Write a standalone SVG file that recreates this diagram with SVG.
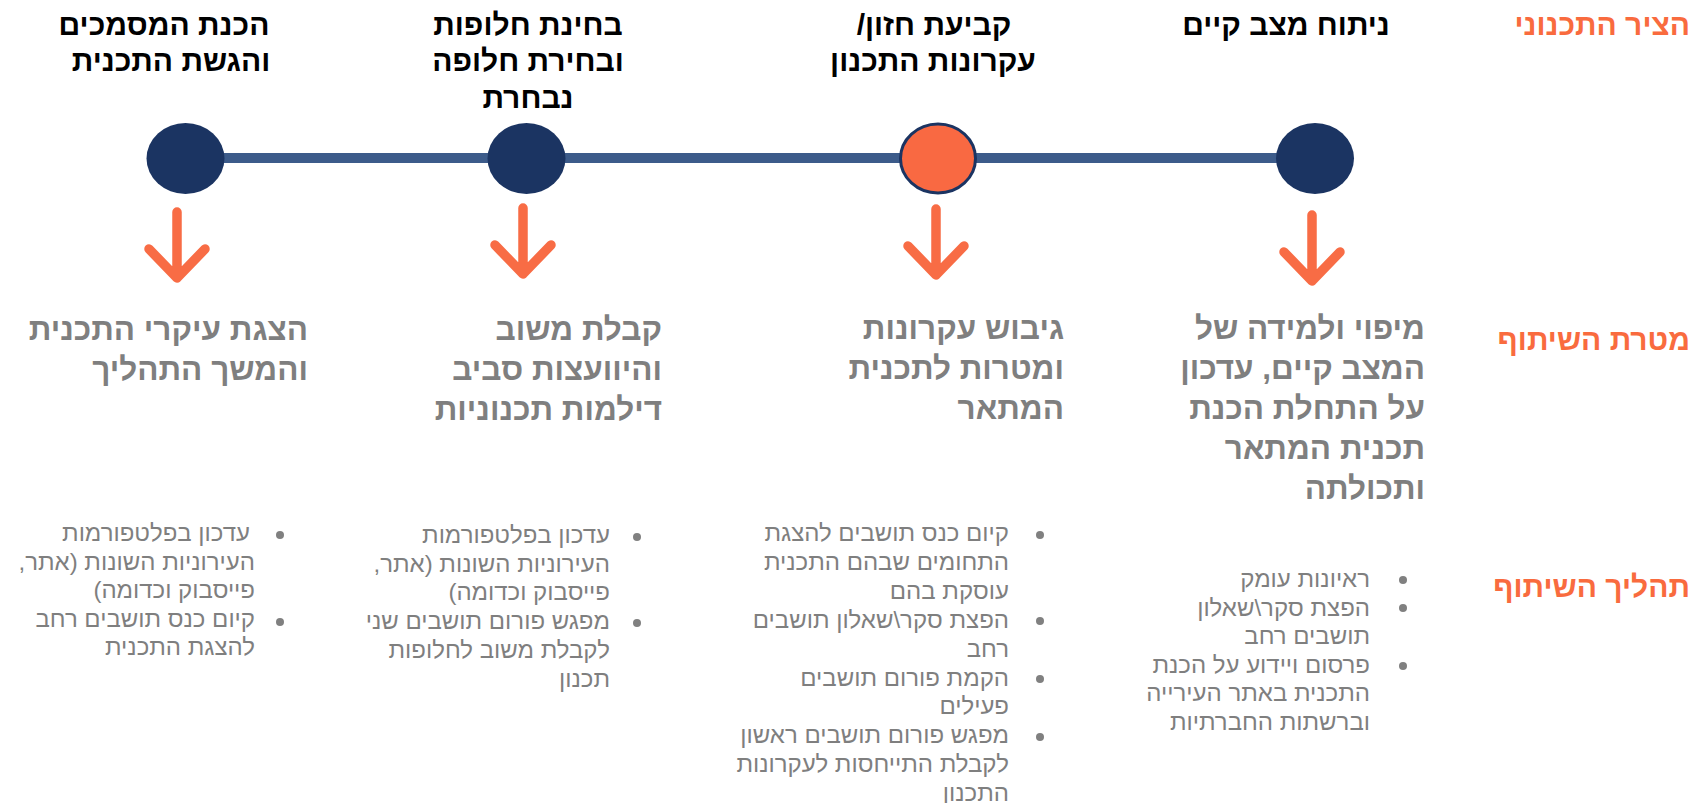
<svg xmlns="http://www.w3.org/2000/svg" width="1694" height="803" viewBox="0 0 1694 803">
<style>
text{font-family:"Liberation Sans","DejaVu Sans",sans-serif}
.hd{font-size:30px;font-weight:bold;fill:#000}
.lbl{font-size:30px;font-weight:bold;fill:#F96B3E}
.goal{font-size:31.5px;font-weight:bold;fill:#7F7F7F}
.bl{font-size:24px;fill:#7F7F7F}
.rtl{direction:rtl;unicode-bidi:embed}
.dot{fill:#808080}
.node-navy{fill:#1B3462}
.node-or{fill:#F96942;stroke:#1B3462;stroke-width:3}
.arrow{fill:none;stroke:#F86C45;stroke-width:9.5;stroke-linecap:round;stroke-linejoin:round}
</style>
<defs>
<path id="arr" d="M0,0 V66 M-28,37 L0,66 L28,37"/>
</defs>
<g id="connectors">
<line x1="186" y1="158" x2="1315" y2="158" stroke="#3C5B8A" stroke-width="10"/>
</g>
<g id="row-labels">
<text class="lbl rtl" x="1690" y="35" text-anchor="start">הציר התכנוני</text>
<text class="lbl rtl" x="1690" y="350" text-anchor="start">מטרת השיתוף</text>
<text class="lbl rtl" x="1690" y="597" text-anchor="start">תהליך השיתוף</text>
</g>
<g id="stage1">
<text class="hd rtl" x="1286" y="35" text-anchor="middle">ניתוח מצב קיים</text>
<ellipse class="node-navy" cx="1315" cy="158.5" rx="39" ry="35.5"/>
<use href="#arr" class="arrow" x="1312" y="215"/>
<text class="goal rtl" text-anchor="start"><tspan x="1425" y="339">מיפוי ולמידה של</tspan><tspan x="1425" y="379">המצב קיים, עדכון</tspan><tspan x="1425" y="419">על התחלת הכנת</tspan><tspan x="1425" y="459">תכנית המתאר</tspan><tspan x="1425" y="499">ותכולתה</tspan></text>
<circle class="dot" cx="1403" cy="580" r="4"/><circle class="dot" cx="1403" cy="608" r="4"/><circle class="dot" cx="1403" cy="666" r="4"/>
<text class="bl rtl" text-anchor="start"><tspan x="1370" y="587">ראיונות עומק</tspan><tspan x="1370" y="615.6">הפצת סקר\שאלון</tspan><tspan x="1370" y="644.2">תושבים רחב</tspan><tspan x="1370" y="672.8">פרסום ויידוע על הכנת</tspan><tspan x="1370" y="701.4">התכנית באתר העירייה</tspan><tspan x="1370" y="730">וברשתות החברתיות</tspan></text>
</g>
<g id="stage2">
<text class="hd rtl" x="934" y="35" text-anchor="middle">קביעת חזון/</text>
<text class="hd rtl" x="933" y="71" text-anchor="middle">עקרונות התכנון</text>
<ellipse class="node-or" cx="938" cy="158.5" rx="37.5" ry="34.5"/>
<use href="#arr" class="arrow" x="936" y="209"/>
<text class="goal rtl" text-anchor="start"><tspan x="1064" y="339">גיבוש עקרונות</tspan><tspan x="1064" y="379">ומטרות לתכנית</tspan><tspan x="1064" y="419">המתאר</tspan></text>
<circle class="dot" cx="1040" cy="535" r="4"/><circle class="dot" cx="1040" cy="621" r="4"/><circle class="dot" cx="1040" cy="679" r="4"/><circle class="dot" cx="1040" cy="737" r="4"/>
<text class="bl rtl" text-anchor="start"><tspan x="1009" y="541">קיום כנס תושבים להצגת</tspan><tspan x="1009" y="569.9">התחומים שבהם התכנית</tspan><tspan x="1009" y="598.8">עוסקת בהם</tspan><tspan x="1009" y="627.7">הפצת סקר\שאלון תושבים</tspan><tspan x="1009" y="656.6">רחב</tspan><tspan x="1009" y="685.5">הקמת פורום תושבים</tspan><tspan x="1009" y="714.4">פעילים</tspan><tspan x="1009" y="743.3">מפגש פורום תושבים ראשון</tspan><tspan x="1009" y="772.2">לקבלת התייחסות לעקרונות</tspan><tspan x="1009" y="801">התכנון</tspan></text>
</g>
<g id="stage3">
<text class="hd rtl" text-anchor="middle"><tspan x="528" y="35">בחינת חלופות</tspan><tspan x="528" y="71">ובחירת חלופה</tspan><tspan x="528" y="108">נבחרת</tspan></text>
<ellipse class="node-navy" cx="526.5" cy="158.5" rx="39" ry="35.5"/>
<use href="#arr" class="arrow" x="523" y="208"/>
<text class="goal rtl" text-anchor="start"><tspan x="662" y="340">קבלת משוב</tspan><tspan x="662" y="380">והיוועצות סביב</tspan><tspan x="662" y="420">דילמות תכנוניות</tspan></text>
<circle class="dot" cx="637" cy="537" r="4"/><circle class="dot" cx="637" cy="623" r="4"/>
<text class="bl rtl" text-anchor="start"><tspan x="610" y="543">עדכון בפלטפורמות</tspan><tspan x="610" y="571.7">העירוניות השונות (אתר,</tspan><tspan x="610" y="600.4">פייסבוק וכדומה)</tspan><tspan x="610" y="629.1">מפגש פורום תושבים שני</tspan><tspan x="610" y="657.8">לקבלת משוב לחלופות</tspan><tspan x="610" y="686.5">תכנון</tspan></text>
</g>
<g id="stage4">
<text class="hd rtl" text-anchor="middle"><tspan x="164" y="35">הכנת המסמכים</tspan><tspan x="171" y="71">והגשת התכנית</tspan></text>
<ellipse class="node-navy" cx="185.5" cy="158.5" rx="39" ry="35.5"/>
<use href="#arr" class="arrow" x="177" y="212"/>
<text class="goal rtl" text-anchor="start"><tspan x="308" y="340">הצגת עיקרי התכנית</tspan><tspan x="308" y="380">והמשך התהליך</tspan></text>
<circle class="dot" cx="280" cy="535" r="4"/><circle class="dot" cx="280" cy="622" r="4"/>
<text class="bl rtl" text-anchor="start"><tspan x="250" y="541">עדכון בפלטפורמות</tspan><tspan x="255" y="569.5">העירוניות השונות (אתר,</tspan><tspan x="255" y="598">פייסבוק וכדומה)</tspan><tspan x="255" y="626.5">קיום כנס תושבים רחב</tspan><tspan x="255" y="655">להצגת התכנית</tspan></text>
</g>
</svg>
